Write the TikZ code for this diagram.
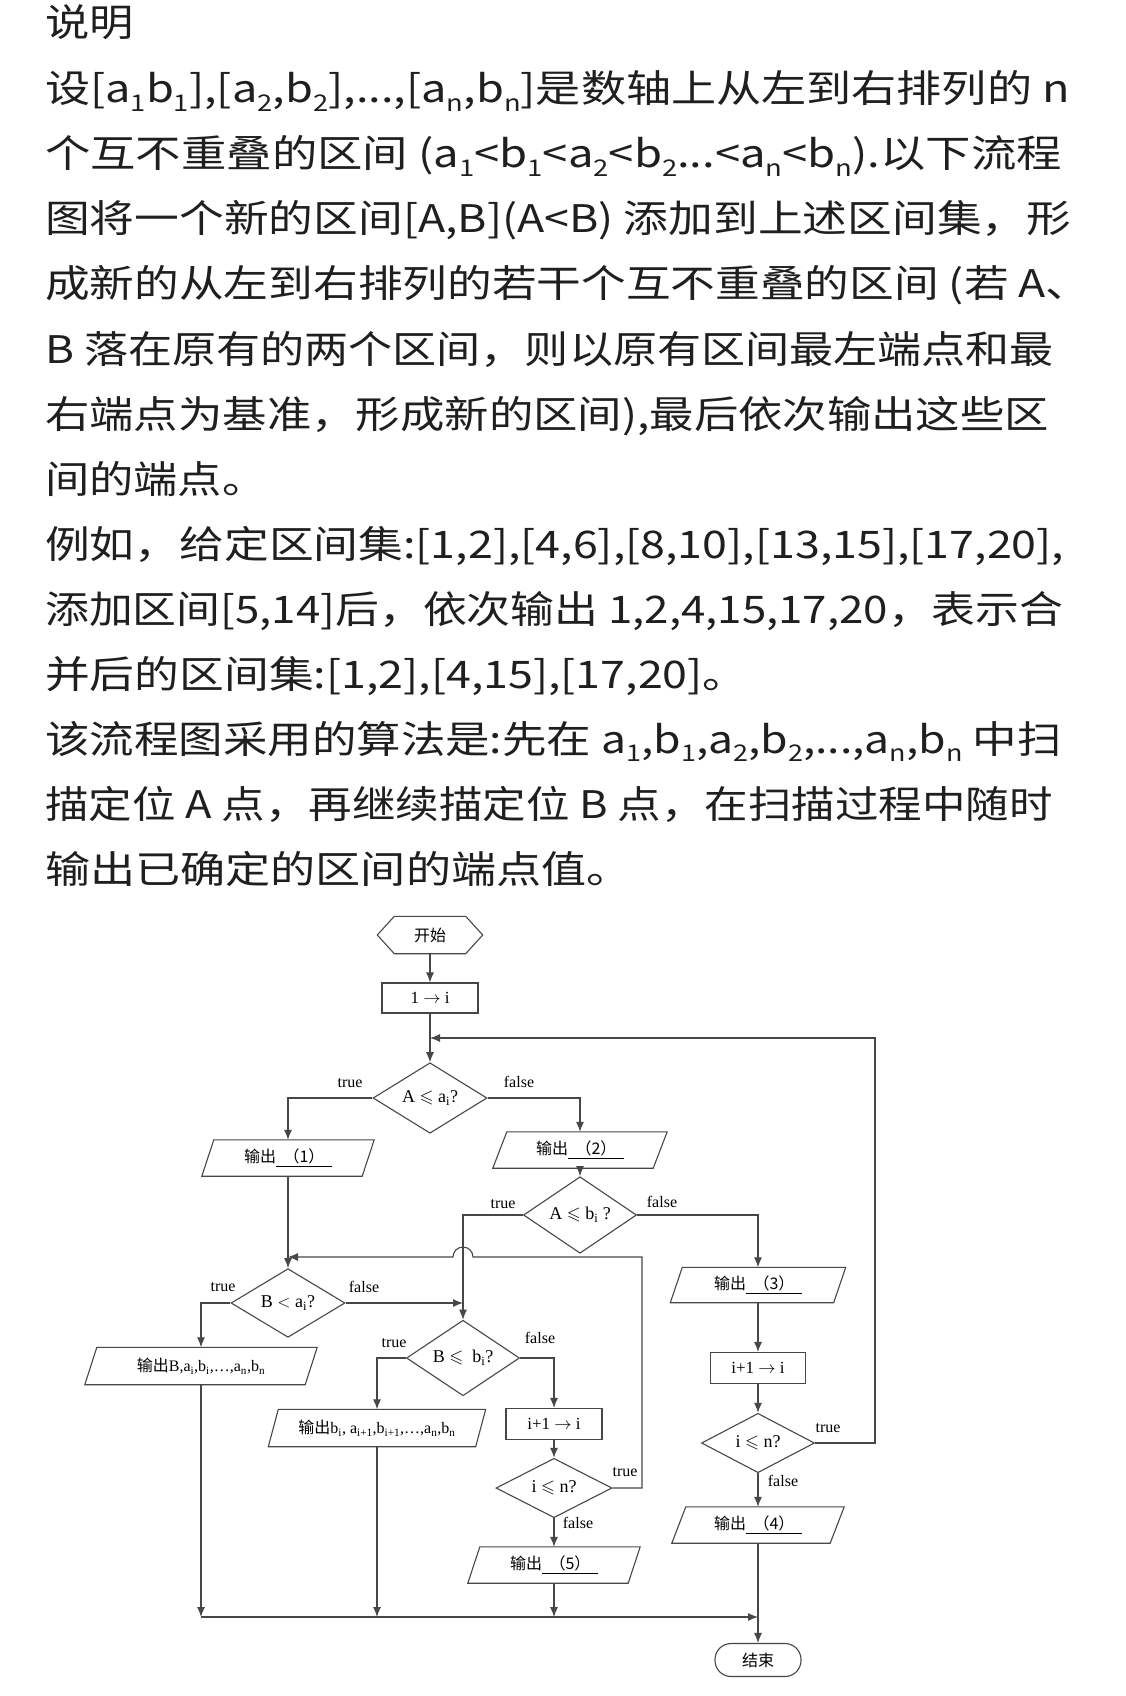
\documentclass[tikz,border=0pt]{standalone}
\usepackage{fontspec}
\usepackage{amssymb}
\usepackage{graphicx}
\setmainfont{Liberation Serif}
\newfontfamily\cjk{Noto Sans CJK SC}
\newfontfamily\topfont[FakeStretch=1.12]{Noto Sans CJK SC}
\usetikzlibrary{arrows.meta,shapes.geometric}
\newcommand\dsub[1]{\raisebox{-0.22em}{\fontsize{23}{23}\selectfont #1}}
\newcommand\sx[2]{\scalebox{#1}[1]{#2}}
\newcommand\drawpara[2]{\draw[shp] ([xshift=#2]#1.north west) -- ([xshift=#2]#1.north east) -- ([xshift=-#2]#1.south east) -- ([xshift=-#2]#1.south west) -- cycle;}
\newcommand\blank[1]{\underline{\makebox[56pt]{\cjk （#1）}}}
\tikzset{
  txt/.style={anchor=base west, inner sep=0pt, text=black!88, font={\topfont\fontsize{38}{38}\selectfont}},
  shp/.style={draw=black!72, line width=1.1pt},
  line/.style={draw=black!72, line width=1.1pt},
  arr/.style={line, -{Latex[length=10pt,width=8pt]}},
  box/.style={shp, rectangle, minimum width=96pt, minimum height=30pt, inner sep=0pt, font={\fontsize{17}{17}\selectfont}},
  dia/.style={shp, diamond, inner sep=0pt, font={\fontsize{18}{18}\selectfont}},
  para/.style={rectangle, draw=none, inner sep=0pt, minimum height=36pt, font={\fontsize{16}{16}\selectfont}},
  lab/.style={inner sep=0pt, font={\fontsize{16}{16}\selectfont}},
}
\begin{document}
\begin{tikzpicture}[x=1pt,y=-1pt]
\fill[white] (0,0) rectangle (1125,1696);
\useasboundingbox (0,0) rectangle (1125,1696);
% ---------- text ----------
\node[txt] (t0) at (45,37) {\sx{1.04}{说明}};
\node[txt] (t1) at (45,103) {\sx{1.060}{设[a\dsub{1}b\dsub{1}],[a\dsub{2},b\dsub{2}],...,[a\dsub{n},b\dsub{n}]是数轴上从左到右排列的 n}};
\node[txt] (t2) at (45,168) {\sx{1.066}{个互不重叠的区间 (a\dsub{1}<b\dsub{1}<a\dsub{2}<b\dsub{2}...<a\dsub{n}<b\dsub{n}).以下流程}};
\node[txt] (t3) at (45,233) {\sx{1.051}{图将一个新的区间[A,B](A<B) 添加到上述区间集，形}};
\node[txt] (t4) at (45,298) {\sx{1.050}{成新的从左到右排列的若干个互不重叠的区间 (若 A、}};
\node[txt] (t5) at (45,363) {\sx{1.036}{B 落在原有的两个区间，则以原有区间最左端点和最}};
\node[txt] (t6) at (45,428) {\sx{1.043}{右端点为基准，形成新的区间),最后依次输出这些区}};
\node[txt] (t7) at (45,493) {\sx{1.04}{间的端点。}};
\node[txt] (t8) at (45,558) {\sx{1.052}{例如，给定区间集:[1,2],[4,6],[8,10],[13,15],[17,20],}};
\node[txt] (t9) at (45,623) {\sx{1.030}{添加区间[5,14]后，依次输出 1,2,4,15,17,20，表示合}};
\node[txt] (t10) at (45,688) {\sx{1.052}{并后的区间集:[1,2],[4,15],[17,20]。}};
\node[txt] (t11) at (45,753) {\sx{1.045}{该流程图采用的算法是:先在 a\dsub{1},b\dsub{1},a\dsub{2},b\dsub{2},...,a\dsub{n},b\dsub{n} 中扫}};
\node[txt] (t12) at (45,818) {\sx{1.022}{描定位 A 点，再继续描定位 B 点，在扫描过程中随时}};
\node[txt] (t13) at (45,883) {\sx{1.060}{输出已确定的区间的端点值。}};
% ---------- flowchart nodes ----------
\node[rectangle, inner sep=0pt, minimum width=105pt, minimum height=37pt, font={\cjk\fontsize{16}{16}\selectfont}] (start) at (430,935) {开始};
\draw[shp] (start.west) -- ([xshift=17pt]start.north west) -- ([xshift=-17pt]start.north east) -- (start.east) -- ([xshift=-17pt]start.south east) -- ([xshift=17pt]start.south west) -- cycle;
\node[box] (init) at (430,998) {1 \ensuremath{\rightarrow} i};
\node[dia, minimum width=114pt, minimum height=60pt] (d1) at (430,1098) {A $\leqslant$ a\textsubscript{i}?};
\node[para, minimum width=160pt] (o1) at (288,1158) {{\cjk 输出}\blank{1}};
\drawpara{o1}{6pt}
\node[para, minimum width=160pt] (o2) at (580,1150) {{\cjk 输出}\blank{2}};
\drawpara{o2}{7pt}
\node[dia, minimum width=113pt, minimum height=46pt] (d2) at (580,1215) {A $\leqslant$ b\textsubscript{i} ?};
\node[dia, minimum width=114pt, minimum height=48pt] (d3) at (288,1303) {B $<$ a\textsubscript{i}?};
\node[para, minimum width=220pt, minimum height=37pt] (oB) at (201,1366) {{\cjk 输出}B,a\textsubscript{i},b\textsubscript{i},…,a\textsubscript{n},b\textsubscript{n}};
\drawpara{oB}{6pt}
\node[dia, minimum width=113pt, minimum height=47pt] (d4) at (463,1358) {B $\leqslant$\ \ b\textsubscript{i}?};
\node[para, minimum width=207pt, minimum height=37pt] (ob) at (377,1428) {{\cjk 输出}b\textsubscript{i}, a\textsubscript{i+1},b\textsubscript{i+1},…,a\textsubscript{n},b\textsubscript{n}};
\drawpara{ob}{5pt}
\node[box, minimum height=31pt] (inc1) at (554,1424) {i+1 \ensuremath{\rightarrow} i};
\node[dia, minimum width=116pt, minimum height=40pt] (d5) at (554,1488) {i $\leqslant$ n?};
\node[para, minimum width=160pt] (o5) at (554,1565) {{\cjk 输出}\blank{5}};
\drawpara{o5}{6pt}
\node[para, minimum width=163pt, minimum height=35pt] (o3) at (758,1285) {{\cjk 输出}\blank{3}};
\drawpara{o3}{6pt}
\node[box, minimum width=95pt, minimum height=31pt] (inc2) at (758,1368) {i+1 \ensuremath{\rightarrow} i};
\node[dia, minimum width=113pt, minimum height=48pt] (d6) at (758,1443) {i $\leqslant$ n?};
\node[para, minimum width=158pt] (o4) at (758,1525) {{\cjk 输出}\blank{4}};
\drawpara{o4}{7pt}
\node[shp, rectangle, rounded corners=16pt, minimum width=86pt, minimum height=33pt, inner sep=0pt, font={\cjk\fontsize{16}{16}\selectfont}] (end) at (758,1660) {结束};
% ---------- helper coordinates ----------
\coordinate (j1) at (430,1038);
\coordinate (rt) at (875,1038);
\coordinate (j2) at (288,1257);
\coordinate (lt) at (642,1257);
\coordinate (bumpR) at (473,1257);
\coordinate (m1) at (201,1617);
\coordinate (m4) at (758,1617);
% ---------- connectors ----------
\draw[arr] (start) -- (init);
\draw[arr] (init) -- (d1);
\draw[arr] (d6.east) -| (rt) -- (j1);
\draw[arr] (d1.west) -| (o1.north);
\draw[arr] (d1.east) -| (o2.north);
\draw[arr] (o2) -- (d2);
\draw[arr] (d2.west) -| (d4.north);
\draw[arr] (d2.east) -| (o3.north);
\draw[arr] (o1) -- (d3);
\draw[arr] (d5.east) -| (lt) -- (bumpR) arc[start angle=0,end angle=180,radius=10pt] -- (j2);
\draw[arr] (d3.west) -| (oB.north);
\draw[arr] (d3.east) -- (d3.east -| d4.north);
\draw[arr] (d4.west) -| (ob.north);
\draw[arr] (d4.east) -| (inc1.north);
\draw[arr] (inc1) -- (d5);
\draw[arr] (d5) -- (o5);
\draw[arr] (o3) -- (inc2);
\draw[arr] (inc2) -- (d6);
\draw[arr] (d6) -- (o4);
\draw[arr] (o4) -- (end);
\draw[arr] (oB.south) -- (oB.south |- m1);
\draw[arr] (ob.south) -- (ob.south |- m1);
\draw[arr] (o5.south) -- (o5.south |- m1);
\draw[arr] (m1) -- (m4);
% ---------- labels ----------
\node[lab] (l1) at (350,1083) {true};
\node[lab] (l2) at (519,1082) {false};
\node[lab] (l3) at (503,1204) {true};
\node[lab] (l4) at (662,1202) {false};
\node[lab] (l5) at (223,1287) {true};
\node[lab] (l6) at (364,1287) {false};
\node[lab] (l7) at (394,1343) {true};
\node[lab] (l8) at (540,1338) {false};
\node[lab] (l9) at (625,1472) {true};
\node[lab] (l10) at (578,1523) {false};
\node[lab] (l11) at (828,1428) {true};
\node[lab] (l12) at (783,1481) {false};
\end{tikzpicture}
\end{document}
